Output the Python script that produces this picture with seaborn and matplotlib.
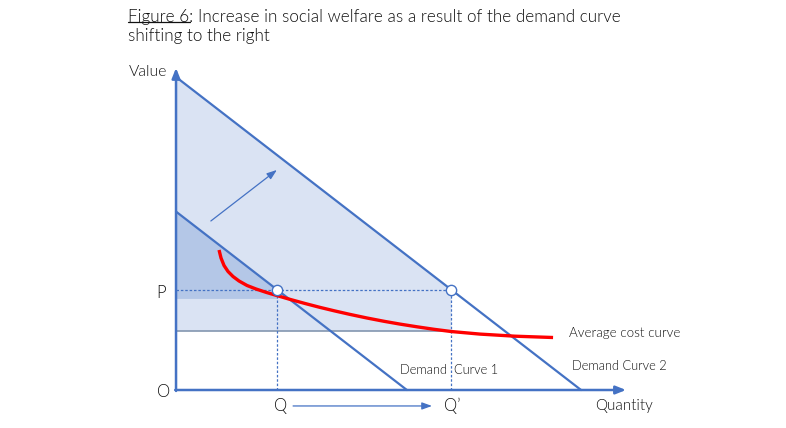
import matplotlib
matplotlib.use("Agg")
import matplotlib.pyplot as plt
import seaborn as sns
import pandas as pd
from matplotlib.lines import Line2D

# ---------------- data ----------------
d1_q = [0, 57]
d1_p = [57, 0]
d2_q = [0, 100]
d2_p = [100, 0]
price_p = 32
qty_q1 = 25
qty_q2 = 68
ac_at_q2 = 18.8
ac_at_q1 = 29.1
ac_q = [10.62, 11.11, 11.85, 12.84, 14.07, 15.56, 17.53, 19.75, 22.22, 24.94,
        28.15, 31.85, 35.56, 39.26, 42.96, 47.16, 51.36, 55.31, 59.51, 63.70,
        67.90, 75.06, 83.70, 93.09]
ac_v = [44.73, 42.17, 39.78, 37.86, 36.26, 34.82, 33.39, 32.27, 31.21, 30.16,
        28.95, 27.64, 26.39, 25.24, 24.15, 23.00, 21.95, 21.05, 20.19, 19.39,
        18.69, 17.86, 17.19, 16.77]
eq_q = [qty_q1, qty_q2]
eq_p = [price_p, price_p]

BLUE = "#4472C4"
LIGHT = "#DAE3F3"
MID = "#B4C7E7"
RED = "#FF0000"
FONT = ["Lato", "DejaVu Sans"]

sns.set_theme(style="white")
plt.rcParams["font.family"] = FONT

fig = plt.figure(figsize=(7.86, 4.28), dpi=100)
ax = fig.add_axes([0, 0, 1, 1])
ax.set_xlim(-43.46, 150.6)
ax.set_ylim(-12.14, 124.6)
ax.axis("off")

# shaded welfare regions
ax.fill([0, qty_q2, qty_q2, 0], [d2_p[0], price_p, ac_at_q2, ac_at_q2],
        color=LIGHT, lw=0, zorder=1)
ax.fill([0, qty_q1, qty_q1, 0], [d1_p[0], price_p, ac_at_q1, ac_at_q1],
        color=MID, lw=0, zorder=2)
ax.plot([0, qty_q2], [ac_at_q2, ac_at_q2], color="#8497B0", lw=1.2, zorder=3)

# dotted guide lines
ax.plot([0, qty_q2], [price_p, price_p], color=BLUE, lw=0.9, ls=(0, (2, 1.5)), zorder=3)
ax.plot([qty_q1, qty_q1], [0, price_p], color=BLUE, lw=0.9, ls=(0, (2, 1.5)), zorder=3)
ax.plot([qty_q2, qty_q2], [0, price_p], color=BLUE, lw=0.9, ls=(0, (2, 1.5)), zorder=3)

# demand curves
sns.lineplot(x=d1_q, y=d1_p, ax=ax, color=BLUE, lw=1.6, zorder=4)
sns.lineplot(x=d2_q, y=d2_p, ax=ax, color=BLUE, lw=1.6, zorder=4)

# average cost curve
ac_df = pd.DataFrame({"q": ac_q, "v": ac_v})
sns.lineplot(data=ac_df, x="q", y="v", ax=ax, color=RED, lw=2.4, sort=False,
             zorder=5, solid_capstyle="butt", solid_joinstyle="round")

# equilibrium points
sns.scatterplot(x=eq_q, y=eq_p, ax=ax, s=55, color="white", edgecolor=BLUE,
                linewidth=1.0, zorder=6)

# axes arrows
ap = dict(arrowstyle="-|>,head_length=0.5,head_width=0.2", color=BLUE, lw=1.8,
          shrinkA=0, shrinkB=0)
ax.annotate("", xy=(111.1, 0), xytext=(-0.2, 0), arrowprops=ap, zorder=7)
ax.annotate("", xy=(0, 102.9), xytext=(0, -0.3), arrowprops=ap, zorder=7)

# shift arrows
ap2 = dict(arrowstyle="-|>,head_length=0.5,head_width=0.18", color=BLUE, lw=0.9,
           shrinkA=0, shrinkB=0)
ax.annotate("", xy=(24.9, 70.3), xytext=(8.6, 54.0), arrowprops=ap2, zorder=7)
ax.annotate("", xy=(63.2, -5.1), xytext=(28.9, -5.1), arrowprops=ap2, zorder=7)

# labels
tk = dict(color="#111111", fontweight=300)
ax.text(-2.2, 101.6, "Value", ha="right", va="center", fontsize=11.3, **tk)
ax.text(-3.7, 31.0, "P", ha="center", va="center", fontsize=12, **tk)
ax.text(-3.0, -0.6, "O", ha="center", va="center", fontsize=12, **tk)
ax.text(25.7, -5.1, "Q", ha="center", va="center", fontsize=12, **tk)
ax.text(68.3, -5.1, "Q\u2019", ha="center", va="center", fontsize=12, **tk)
ax.text(110.6, -5.1, "Quantity", ha="center", va="center", fontsize=11, **tk)
ax.text(67.4, 6.4, "Demand  Curve 1", ha="center", va="center", fontsize=9.3, **tk)
ax.text(109.4, 7.7, "Demand Curve 2", ha="center", va="center", fontsize=9.3, **tk)
ax.text(97.0, 18.2, "Average cost curve", ha="left", va="center", fontsize=9.6, **tk)

# title
TS = 12.3
t1 = fig.text(0.163, 0.960, "Figure 6:", ha="left", va="center", fontsize=TS, **tk)
fig.canvas.draw()
bb = t1.get_window_extent(renderer=fig.canvas.get_renderer())
inv = fig.transFigure.inverted()
(x0, y0), (x1, y1) = inv.transform([[bb.x0, bb.y0], [bb.x1, bb.y1]])
fig.text(x1 + 0.006, 0.960, "Increase in social welfare as a result of the demand curve",
         ha="left", va="center", fontsize=TS, **tk)
fig.text(0.163, 0.916, "shifting to the right", ha="left", va="center", fontsize=TS, **tk)
fig.add_artist(Line2D([x0, x1 - 0.004], [y0 + 0.007, y0 + 0.007],
                      transform=fig.transFigure, color="#111111", lw=0.9))

fig.savefig("out.png", dpi=100, facecolor="white")
